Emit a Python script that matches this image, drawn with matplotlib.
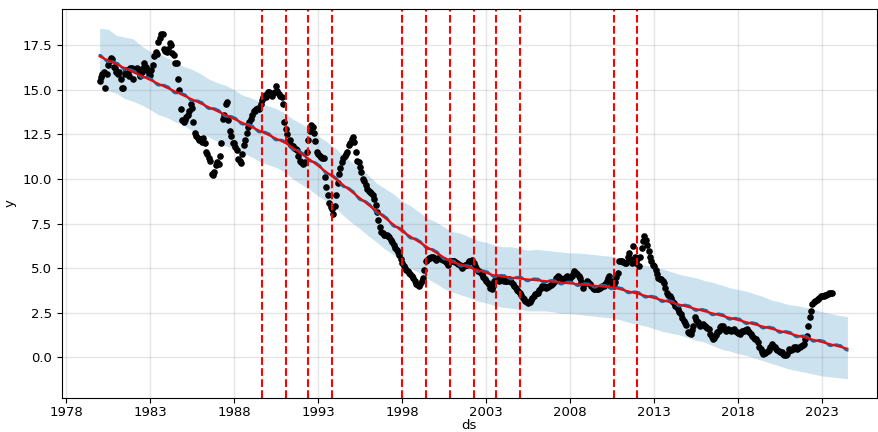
import numpy as np
import pandas as pd
import matplotlib
matplotlib.use("Agg")
import matplotlib.pyplot as plt
import matplotlib.dates as mdates

# Observed monthly series, Jan 1980 onward (one row per year)
y_1980s = [
    15.5, 15.7, 15.9, 16.0, 15.1, 15.9, 16.4, 16.6, 16.8, 16.7, 16.3, 16.2,
    16.0, 15.9, 16.0, 15.6, 15.1, 15.1, 15.9, 16.1, 16.0, 15.8, 16.2, 16.2,
    15.6, 16.1, 16.1, 16.2, 16.1, 15.8, 16.0, 16.2, 16.5, 16.3, 16.1, 15.9,
    15.85, 16.1, 16.4, 16.9, 17.1, 17.0, 17.7, 17.9, 18.15, 18.1, 17.3, 17.2,
    17.1, 17.3, 17.6, 17.5, 17.05, 16.95, 16.5, 16.5, 15.6, 15.0, 13.9, 13.3,
    13.2, 13.3, 13.5, 13.6, 13.8, 14.2, 14.0, 13.2, 12.6, 12.4, 12.3, 12.2,
    12.25, 12.1, 12.3, 12.0, 11.5, 11.4, 11.2, 11.0, 10.3, 10.2, 10.4, 10.8,
    10.95, 10.85, 11.3, 12.0, 13.35, 13.6, 14.2, 14.3, 13.3, 12.7, 12.4, 12.0,
    12.0, 11.8, 11.6, 11.1, 11.0, 10.9, 11.4, 11.9, 12.2, 12.6, 12.9, 13.2,
    13.35, 13.6, 13.8, 13.8, 13.9, 14.0, 13.9, 14.2, 14.4, 14.6, 14.7, 14.6,
]
y_1990s = [
    14.9, 14.9, 14.75, 14.65, 14.8, 14.9, 15.2, 14.95, 14.75, 14.65, 14.6, 14.2,
    13.2, 12.8, 12.5, 12.15, 12.2, 11.9, 11.85, 11.75, 11.7, 11.6, 11.3, 11.0,
    10.94, 10.85, 10.9, 10.94, 11.5, 12.2, 12.7, 13.05, 12.9, 12.6, 12.15, 11.5,
    11.4, 11.3, 11.25, 11.2, 11.2, 10.1, 9.55, 9.1, 8.65, 8.4, 8.3, 8.05,
    8.5, 9.1, 9.75, 10.3, 10.6, 10.95, 11.2, 11.3, 11.4, 11.5, 11.9, 12.0,
    12.24, 12.33, 12.05, 11.5, 11.03, 10.94, 10.67, 10.4, 10.02, 9.9, 9.65, 9.46,
    9.3, 9.28, 9.2, 9.09, 8.9, 8.53, 8.17, 7.7, 7.33, 7.05, 6.96, 6.87,
    6.87, 6.85, 6.8, 6.77, 6.6, 6.45, 6.31, 6.13, 6.0, 5.9, 5.76, 5.5,
    5.3, 5.11, 5.0, 4.92, 4.83, 4.7, 4.65, 4.55, 4.46, 4.25, 4.09, 4.05,
    4.0, 4.09, 4.28, 4.46, 4.92, 5.39, 5.47, 5.57, 5.57, 5.6, 5.61, 5.55,
]
y_2000s = [
    5.48, 5.5, 5.55, 5.57, 5.5, 5.48, 5.45, 5.35, 5.3, 5.2, 5.39, 5.4,
    5.39, 5.39, 5.35, 5.3, 5.25, 5.15, 5.11, 5.02, 5.1, 5.15, 5.2, 5.3,
    5.39, 5.42, 5.48, 5.3, 5.1, 5.02, 4.85, 4.83, 4.74, 4.65, 4.5, 4.37,
    4.28, 4.15, 4.09, 3.9, 3.81, 4.0, 4.3, 4.5, 4.4, 4.3, 4.35, 4.4,
    4.4, 4.3, 4.25, 4.3, 4.4, 4.3, 4.2, 4.1, 4.0, 3.9, 3.8, 3.72,
    3.6, 3.5, 3.35, 3.25, 3.17, 3.1, 3.07, 3.1, 3.2, 3.3, 3.44, 3.54,
    3.6, 3.63, 3.75, 3.9, 4.0, 4.0, 3.95, 3.9, 3.95, 4.0, 4.05, 4.1,
    4.18, 4.3, 4.45, 4.56, 4.5, 4.46, 4.4, 4.37, 4.46, 4.5, 4.56, 4.5,
    4.46, 4.55, 4.65, 4.83, 4.74, 4.65, 4.55, 4.46, 4.2, 3.9, 4.1, 4.18,
    4.28, 4.2, 4.09, 4.0, 3.9, 3.85, 3.81, 3.81, 3.85, 3.9, 3.95, 4.0,
]
y_2010s = [
    4.0, 4.1, 4.3, 4.45, 4.56, 4.3, 4.09, 4.0, 4.2, 4.5, 4.74, 5.39,
    5.39, 5.39, 5.35, 5.3, 5.3, 5.6, 5.85, 5.5, 5.3, 6.22, 5.6, 5.3,
    5.5, 5.11, 5.6, 6.13, 6.5, 6.78, 6.6, 6.3, 5.94, 5.6, 5.39, 5.2,
    5.1, 4.92, 4.65, 4.46, 4.4, 4.37, 4.3, 4.18, 3.9, 3.63, 3.5, 3.44,
    3.3, 3.17, 3.05, 2.89, 2.8, 2.7, 2.55, 2.42, 2.2, 2.06, 1.9, 1.8,
    1.41, 1.36, 1.32, 1.55, 1.78, 2.24, 2.1, 1.96, 1.85, 1.78, 1.8, 1.87,
    1.75, 1.68, 1.62, 1.59, 1.3, 1.13, 1.04, 1.1, 1.23, 1.4, 1.5, 1.68,
    1.75, 1.78, 1.6, 1.5, 1.55, 1.59, 1.55, 1.5, 1.55, 1.59, 1.5, 1.4,
    1.35, 1.31, 1.4, 1.45, 1.5, 1.55, 1.59, 1.5, 1.4, 1.31, 1.2, 1.1,
    1.04, 1.04, 0.85, 0.6, 0.48, 0.3, 0.2, 0.25, 0.29, 0.35, 0.39, 0.55,
]
y_2020s = [
    0.76, 0.65, 0.57, 0.45, 0.39, 0.35, 0.3, 0.29, 0.2, 0.11, 0.15, 0.2,
    0.48, 0.42, 0.39, 0.45, 0.57, 0.55, 0.48, 0.5, 0.6, 0.65, 0.7, 0.76,
    1.0, 1.22, 1.78, 2.24, 2.61, 2.98, 3.1, 3.17, 3.2, 3.26, 3.35, 3.44,
    3.44, 3.44, 3.48, 3.5, 3.53, 3.58, 3.63, 3.63,
]
observed = y_1980s + y_1990s + y_2000s + y_2010s + y_2020s

# Fitted trend: values at the start, at each changepoint and at the horizon
trend_dates = ["1980-01-01", "1989-09-01", "1991-02-01", "1992-06-01",
               "1993-11-01", "1998-01-01", "1999-06-01", "2000-11-01",
               "2002-04-01", "2003-08-01", "2005-01-01", "2010-08-01",
               "2012-01-01", "2024-07-01"]
trend_values = [16.87, 12.64, 12.0, 11.15, 10.15, 7.06, 6.22, 5.39,
                4.96, 4.56, 4.41, 3.91, 3.57, 0.48]

# Changepoints marked on the chart
changepoints = trend_dates[1:-1]

# Yearly seasonal component, Jan..Dec
seasonal = [0.08, 0.10, 0.06, 0.0, -0.06, -0.10, -0.10, -0.06, 0.0, 0.05, 0.08, 0.09]

# Uncertainty interval, sampled twice a year (Jan 1 and Jul 1) up to the horizon
band_years = [1980 + 0.5 * i for i in range(90)]
band_upper = [18.45, 18.4, 18.05, 17.95, 17.85, 17.45, 17.15, 17.05, 16.8, 16.55,
              16.3, 16.15, 15.9, 15.6, 15.4, 15.25, 15.0, 14.7, 14.55, 14.35,
              14.1, 13.95, 13.7, 13.35, 13.1, 12.8, 12.4, 12.1, 11.75, 11.3,
              10.95, 10.6, 10.2, 9.75, 9.45, 9.15, 8.75, 8.5, 8.15, 7.8,
              7.6, 7.3, 7.05, 6.95, 6.75, 6.55, 6.45, 6.3, 6.2, 6.2,
              6.1, 6.0, 6.05, 6.0, 5.95, 5.9, 5.85, 5.85, 5.8, 5.75,
              5.7, 5.65, 5.5, 5.45, 5.3, 5.15, 5.05, 4.95, 4.8, 4.65,
              4.55, 4.45, 4.3, 4.2, 4.05, 3.9, 3.8, 3.7, 3.55, 3.4,
              3.2, 3.1, 2.95, 2.9, 2.8, 2.7, 2.55, 2.45, 2.35, 2.28]
band_lower = [15.25, 14.95, 14.8, 14.5, 14.35, 14.15, 13.9, 13.6, 13.45, 13.2,
              13.0, 12.7, 12.55, 12.35, 12.1, 11.85, 11.7, 11.5, 11.25, 11.0,
              10.8, 10.65, 10.4, 10.0, 9.7, 9.4, 9.05, 8.75, 8.4, 7.95,
              7.55, 7.2, 6.8, 6.45, 6.05, 5.75, 5.35, 5.0, 4.75, 4.4,
              4.15, 3.85, 3.65, 3.5, 3.35, 3.15, 3.05, 2.9, 2.8, 2.75,
              2.7, 2.6, 2.6, 2.6, 2.55, 2.45, 2.45, 2.4, 2.35, 2.3,
              2.25, 2.2, 2.1, 1.95, 1.85, 1.75, 1.6, 1.45, 1.35, 1.25,
              1.1, 0.95, 0.85, 0.65, 0.45, 0.35, 0.2, 0.1, -0.05, -0.2,
              -0.35, -0.5, -0.65, -0.75, -0.85, -0.95, -1.05, -1.1, -1.15, -1.2]

# ---- build frames ----
hist = pd.DataFrame({
    "ds": pd.date_range("1980-01-01", periods=len(observed), freq="MS"),
    "y": observed,
})
future = pd.DataFrame({"ds": pd.date_range("1980-01-01", "2024-07-01", freq="MS")})


def frac_year(d):
    d = pd.DatetimeIndex(d)
    return d.year + (d.dayofyear - 1) / 365.25


t_future = frac_year(future["ds"])
t_knots = frac_year(pd.to_datetime(trend_dates))
future["trend"] = np.interp(t_future, t_knots, trend_values)
future["yhat"] = future["trend"] + np.array(seasonal)[future["ds"].dt.month - 1]
future["lower"] = np.interp(t_future, band_years, band_lower)
future["upper"] = np.interp(t_future, band_years, band_upper)

# ---- plot ----
fig = plt.figure(figsize=(8.79, 4.32), dpi=100)
ax = fig.add_axes([0.070, 0.078, 0.928, 0.902])

ax.plot(hist["ds"], hist["y"], "k.", ms=7.5)
ax.plot(future["ds"], future["yhat"], ls="-", c="#0072B2", lw=1.5)
ax.fill_between(future["ds"], future["lower"], future["upper"],
                color="#0072B2", alpha=0.2, lw=0)
ax.plot(future["ds"], future["trend"], c="r", lw=1.5)
for cp in pd.to_datetime(changepoints):
    ax.axvline(cp, c="r", ls="--", lw=1.5)

ax.grid(True, which="major", c="gray", ls="-", lw=1, alpha=0.2)
ax.set_xlabel("ds", fontsize=9.5, labelpad=0)
ax.set_ylabel("y", fontsize=9.5)

tick_years = list(range(1978, 2024, 5))
ax.set_xticks([pd.Timestamp(f"{yr}-01-01") for yr in tick_years])
ax.xaxis.set_major_formatter(mdates.DateFormatter("%Y"))
ax.set_xlim(pd.Timestamp("1977-09-25"), pd.Timestamp("2026-04-10"))
ax.set_yticks([0.0, 2.5, 5.0, 7.5, 10.0, 12.5, 15.0, 17.5])
ax.set_ylim(-2.3, 19.55)
ax.tick_params(labelsize=9.5)
ax.tick_params(axis="x", pad=2)

fig.savefig("out.png", dpi=100)
